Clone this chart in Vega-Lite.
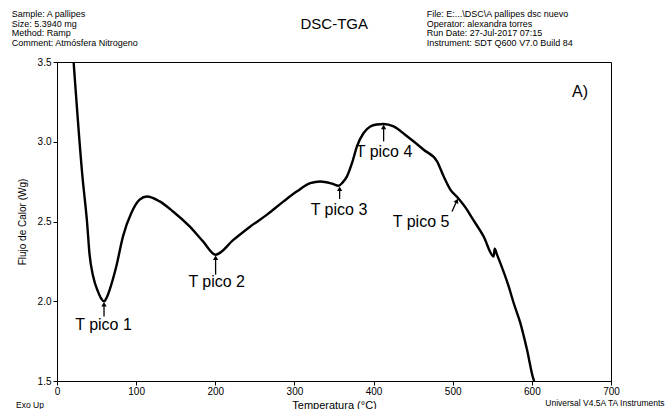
{
  "$schema": "https://vega.github.io/schema/vega-lite/v6.json",
  "width": 554,
  "height": 319,
  "autosize": {"type": "none"},
  "padding": {"left": 57, "top": 62, "right": 58, "bottom": 28},
  "background": "white",
  "config": {
    "view": {"stroke": "black", "strokeWidth": 1},
    "font": "Liberation Sans",
    "axis": {
      "domainColor": "black",
      "tickColor": "black",
      "labelColor": "black",
      "titleColor": "black",
      "grid": false,
      "labelFont": "Liberation Sans",
      "titleFont": "Liberation Sans",
      "titleFontWeight": "normal"
    }
  },
  "datasets": {
    "curve": [
      {"T": 21, "v": 3.5},
      {"T": 32, "v": 2.79},
      {"T": 37.9, "v": 2.5},
      {"T": 41.2, "v": 2.29},
      {"T": 45.5, "v": 2.16},
      {"T": 51.8, "v": 2.06},
      {"T": 56.5, "v": 2.012},
      {"T": 59.4, "v": 1.999},
      {"T": 62.5, "v": 2.02},
      {"T": 66.5, "v": 2.072},
      {"T": 74.9, "v": 2.218},
      {"T": 83.4, "v": 2.407},
      {"T": 93.9, "v": 2.553},
      {"T": 104.4, "v": 2.637},
      {"T": 113.7, "v": 2.657},
      {"T": 129.7, "v": 2.626},
      {"T": 146.6, "v": 2.563},
      {"T": 167.6, "v": 2.469},
      {"T": 184.5, "v": 2.375},
      {"T": 200.4, "v": 2.292},
      {"T": 223.2, "v": 2.386},
      {"T": 244.3, "v": 2.469},
      {"T": 265.4, "v": 2.543},
      {"T": 286.3, "v": 2.626},
      {"T": 303.3, "v": 2.689},
      {"T": 320, "v": 2.741},
      {"T": 332.7, "v": 2.751},
      {"T": 347.5, "v": 2.737},
      {"T": 355.8, "v": 2.724},
      {"T": 361, "v": 2.745},
      {"T": 366.4, "v": 2.783},
      {"T": 372.8, "v": 2.867},
      {"T": 379, "v": 2.971},
      {"T": 387.4, "v": 3.055},
      {"T": 395.9, "v": 3.096},
      {"T": 404, "v": 3.108},
      {"T": 412.7, "v": 3.111},
      {"T": 425.3, "v": 3.096},
      {"T": 442.3, "v": 3.034},
      {"T": 463.3, "v": 2.95},
      {"T": 480.2, "v": 2.877},
      {"T": 488.5, "v": 2.783},
      {"T": 497, "v": 2.7},
      {"T": 506.7, "v": 2.647},
      {"T": 518, "v": 2.574},
      {"T": 524.4, "v": 2.522},
      {"T": 539, "v": 2.407},
      {"T": 551.7, "v": 2.281},
      {"T": 553, "v": 2.329},
      {"T": 556, "v": 2.292},
      {"T": 570.7, "v": 2.093},
      {"T": 577, "v": 1.989},
      {"T": 585.4, "v": 1.864},
      {"T": 593.9, "v": 1.696},
      {"T": 602.3, "v": 1.508},
      {"T": 603, "v": 1.5}
    ],
    "arrows": [
      {"name": "1", "T": 59.4, "v": 1.905, "T2": 59.4, "v2": 1.981},
      {"name": "2", "T": 200.4, "v": 2.167, "T2": 200.4, "v2": 2.273},
      {"name": "3", "T": 357.1, "v": 2.641, "T2": 357.1, "v2": 2.705},
      {"name": "4", "T": 412.7, "v": 3.002, "T2": 412.7, "v2": 3.092},
      {"name": "5", "T": 499.1, "v": 2.563, "T2": 505.2, "v2": 2.63}
    ],
    "texts": [
      {"grp": "pico", "label": "T pico 1", "T": 58.8, "v": 1.851},
      {"grp": "pico", "label": "T pico 2", "T": 201.8, "v": 2.118},
      {"grp": "pico", "label": "T pico 3", "T": 356.3, "v": 2.572},
      {"grp": "pico", "label": "T pico 4", "T": 413.2, "v": 2.938},
      {"grp": "pico", "label": "T pico 5", "T": 460.0, "v": 2.499},
      {"grp": "pico", "label": "A)", "T": 660.9, "v": 3.312},
      {"grp": "hdr", "label": "Sample: A pallipes", "T": -57.2, "v": 3.798},
      {"grp": "hdr", "label": "Size:  5.3940 mg", "T": -57.2, "v": 3.738},
      {"grp": "hdr", "label": "Method: Ramp", "T": -57.2, "v": 3.679},
      {"grp": "hdr", "label": "Comment: Atmósfera Nitrogeno", "T": -57.2, "v": 3.619},
      {"grp": "hdr", "label": "File: E:...\\DSC\\A pallipes dsc nuevo", "T": 467.2, "v": 3.798},
      {"grp": "hdr", "label": "Operator: alexandra torres", "T": 467.2, "v": 3.738},
      {"grp": "hdr", "label": "Run Date: 27-Jul-2017 07:15", "T": 467.2, "v": 3.679},
      {"grp": "hdr", "label": "Instrument: SDT Q600 V7.0 Build 84", "T": 467.2, "v": 3.619},
      {"grp": "title", "label": "DSC-TGA", "T": 350.3, "v": 3.738},
      {"grp": "foot", "label": "Exo Up", "T": -51.8, "v": 1.35},
      {"grp": "foot", "label": "Universal V4.5A TA Instruments", "T": 617, "v": 1.362}
    ]
  },
  "layer": [
    {
      "data": {"name": "curve"},
      "mark": {"type": "line", "color": "black", "strokeWidth": 2.4, "clip": true, "interpolate": "monotone"},
      "encoding": {
        "x": {
          "field": "T", "type": "quantitative",
          "scale": {"domain": [0, 700], "nice": false, "zero": false},
          "axis": {
            "title": "Temperatura (°C)",
            "values": [0, 50, 100, 150, 200, 250, 300, 350, 400, 450, 500, 550, 600, 650, 700],
            "format": "d",
            "labelExpr": "datum.value % 100 == 0 ? datum.label : ''",
            "labelFlush": false,
            "labelOverlap": false,
            "tickSize": 4,
            "labelPadding": 1,
            "labelFontSize": 10,
            "titleFontSize": 11,
            "titlePadding": 3
          }
        },
        "y": {
          "field": "v", "type": "quantitative",
          "scale": {"domain": [1.5, 3.5], "nice": false, "zero": false},
          "axis": {
            "title": "Flujo de Calor (Wg)",
            "values": [1.5, 2, 2.5, 3, 3.5],
            "format": ".1f",
            "labelOverlap": false,
            "tickSize": 4,
            "labelPadding": 2,
            "labelFontSize": 10,
            "titleFontSize": 10,
            "titlePadding": 10
          }
        }
      }
    },
    {
      "data": {"name": "arrows"},
      "mark": {"type": "rule", "color": "black", "strokeWidth": 1.3},
      "encoding": {
        "x": {"field": "T", "type": "quantitative"},
        "y": {"field": "v", "type": "quantitative"},
        "x2": {"field": "T2"},
        "y2": {"field": "v2"}
      }
    },
    {
      "data": {"name": "arrows"},
      "transform": [{"filter": "datum.name != '5'"}],
      "mark": {"type": "point", "shape": "triangle-up", "filled": true, "color": "black", "opacity": 1, "size": 28},
      "encoding": {
        "x": {"field": "T2", "type": "quantitative"},
        "y": {"field": "v2", "type": "quantitative"}
      }
    },
    {
      "data": {"name": "arrows"},
      "transform": [{"filter": "datum.name == '5'"}],
      "mark": {"type": "point", "shape": "triangle-up", "filled": true, "color": "black", "opacity": 1, "size": 28, "angle": 24},
      "encoding": {
        "x": {"field": "T2", "type": "quantitative"},
        "y": {"field": "v2", "type": "quantitative"}
      }
    },
    {
      "data": {"name": "texts"},
      "transform": [{"filter": "datum.grp == 'pico'"}],
      "mark": {"type": "text", "fontSize": 16, "align": "center", "baseline": "middle", "color": "black", "font": "Liberation Sans"},
      "encoding": {
        "x": {"field": "T", "type": "quantitative"},
        "y": {"field": "v", "type": "quantitative"},
        "text": {"field": "label"}
      }
    },
    {
      "data": {"name": "texts"},
      "transform": [{"filter": "datum.grp == 'hdr'"}],
      "mark": {"type": "text", "fontSize": 9, "align": "left", "baseline": "middle", "color": "black", "font": "Liberation Sans"},
      "encoding": {
        "x": {"field": "T", "type": "quantitative"},
        "y": {"field": "v", "type": "quantitative"},
        "text": {"field": "label"}
      }
    },
    {
      "data": {"name": "texts"},
      "transform": [{"filter": "datum.grp == 'title'"}],
      "mark": {"type": "text", "fontSize": 15, "align": "center", "baseline": "middle", "color": "black", "font": "Liberation Sans"},
      "encoding": {
        "x": {"field": "T", "type": "quantitative"},
        "y": {"field": "v", "type": "quantitative"},
        "text": {"field": "label"}
      }
    },
    {
      "data": {"name": "texts"},
      "transform": [{"filter": "datum.grp == 'foot'"}],
      "mark": {"type": "text", "fontSize": 8.5, "align": "left", "baseline": "middle", "color": "black", "font": "Liberation Sans"},
      "encoding": {
        "x": {"field": "T", "type": "quantitative"},
        "y": {"field": "v", "type": "quantitative"},
        "text": {"field": "label"}
      }
    }
  ]
}
